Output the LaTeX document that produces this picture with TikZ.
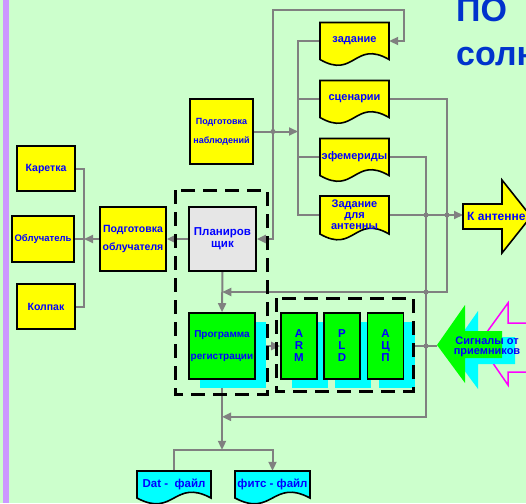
\documentclass[tikz,border=0pt]{standalone}
\usepackage{fontspec}
\setmainfont{Liberation Sans}
\usetikzlibrary{arrows.meta,calc,shadows,backgrounds}

\definecolor{bggreen}{HTML}{CCFFCC}
\definecolor{barpurple}{HTML}{CC99FF}
\definecolor{boxyellow}{HTML}{FFFF00}
\definecolor{boxgreen}{HTML}{00FF00}
\definecolor{boxcyan}{HTML}{00FFFF}
\definecolor{wiregray}{HTML}{808080}
\definecolor{plangray}{HTML}{E6E6E6}
\definecolor{txtblue}{HTML}{0000FF}
\definecolor{titleblue}{HTML}{0033CC}
\definecolor{sigmagenta}{HTML}{FF00FF}

\newcommand{\boxfont}[2]{\fontsize{#1}{#2}\selectfont\bfseries}

\tikzset{
  blk/.style={draw, line width=1.6pt, text=txtblue, align=center, inner sep=1pt},
  ybox/.style={blk, fill=boxyellow},
  gbox/.style={blk, fill=boxgreen,
    drop shadow={fill=boxcyan, opacity=1, shadow xshift=11pt, shadow yshift=-9pt}},
  docbox/.style={text=txtblue, align=center, inner sep=1pt},
  docline/.style={draw, line width=1.6pt},
  wire/.style={draw=wiregray, line width=2pt},
  arr/.style={wire, -{Triangle[length=9pt,width=8pt]}},
  arrs/.style={wire, {Triangle[length=9pt,width=8pt]}-{Triangle[length=9pt,width=8pt]}},
  dashbox/.style={draw, line width=3pt, dash pattern=on 14pt off 8pt},
}

\begin{document}
\begin{tikzpicture}[x=1pt, y=-1pt]
\useasboundingbox (0,0) rectangle (526,503);
\clip (0,0) rectangle (526,503);
\begin{scope}[on background layer]
  \fill[bggreen] (0,0) rectangle (526,503);
  \fill[barpurple] (3,0) rectangle (9,503);
\end{scope}

% title
\node[anchor=base west, inner sep=0pt, text=titleblue, font=\boxfont{34}{40}] (ttlA) at (456,22) {ПО};
\node[anchor=base west, inner sep=0pt, text=titleblue, font=\boxfont{34}{40}] (ttlB) at (456,65) {солн};

% blocks
\node[ybox, minimum width=58pt, minimum height=45pt, font=\boxfont{10.5}{12}] (kar) at (46,168.5) {Каретка};
\node[ybox, minimum width=62pt, minimum height=46pt, font=\boxfont{9.5}{11}] (obl) at (43,239) {Облучатель};
\node[ybox, minimum width=58pt, minimum height=45pt, font=\boxfont{10.5}{12}] (kol) at (46,306.5) {Колпак};
\node[ybox, minimum width=66pt, minimum height=64pt, font=\boxfont{10.5}{18}] (podobl) at (133,239) {Подготовка\\облучателя};
\node[blk, fill=plangray, minimum width=67pt, minimum height=64pt, font=\boxfont{11.5}{12}] (plan) at (222.5,239) {Планиров\\щик};
\node[gbox, minimum width=66pt, minimum height=66pt, font=\boxfont{10}{22}] (prog) at (222,346) {Программа\\регистрации};
\node[ybox, minimum width=63pt, minimum height=65pt, font=\boxfont{9}{19}] (podnab) at (221.5,131.5) {Подготовка\\наблюдений};
\foreach \nm/\xc/\ltr in {arm/299/{A\\R\\M}, pld/342/{P\\L\\D}, adc/385.5/{А\\Ц\\П}}
  \node[gbox, minimum width=36pt, minimum height=66pt, font=\boxfont{11.5}{12}] (\nm) at (\xc,346) {\ltr};

% documents
\foreach \nm/\xc/\yc/\w/\h/\col/\fsz/\txt in {
  zad/354.5/41/69/37/boxyellow/11/{задание},
  scen/354.5/99/69/37/boxyellow/11/{сценарии},
  eph/354.5/157/69/37/boxyellow/11/{эфемериды},
  zant/354.5/215/69/38/boxyellow/11/{Задание\\для\\антенны},
  dat/174/484.5/74/27/boxcyan/11.5/{Dat -\ \ файл},
  fits/272.5/484.5/75/27/boxcyan/11.5/{фитс - файл}}
{
  \filldraw[docline, fill=\col] (\xc-\w/2,\yc-\h/2) -- (\xc+\w/2,\yc-\h/2) -- (\xc+\w/2,\yc+\h/2)
    .. controls (\xc,\yc+\h/2-20) and (\xc,\yc+\h/2+20) .. (\xc-\w/2,\yc+\h/2) -- cycle;
  \node[docbox, minimum width=\w pt, minimum height=\h pt, font=\boxfont{\fsz}{11}] (\nm) at (\xc,\yc) {\txt};
}

% dashed groups
\draw[dashbox] (175,190) rectangle (267,394);
\draw[dashbox] (276,298) rectangle (413,391);

% big arrows
\filldraw[fill=boxyellow, line width=1.6pt] (463,204) -- (502,204) -- (502,180) -- (531,216.5)
  -- (502,253) -- (502,229) -- (463,229) -- cycle;
\node[anchor=west, inner sep=0pt, text=txtblue, font=\boxfont{12}{12}] (ant) at (467,216.5) {К антенне};
\coordinate (anttail) at (463,216.5);

\draw[sigmagenta, line width=1.5pt] (479,343) -- (508,303) -- (508,323) -- (540,323) -- (540,372)
  -- (508,372) -- (508,385) -- cycle;
\fill[boxcyan] (450,351) -- (478,311) -- (478,337) -- (515,337) -- (515,364) -- (478,364) -- (478,389) -- cycle;
\fill[boxgreen] (437,345) -- (465,305) -- (465,331) -- (502,331) -- (502,358) -- (465,358) -- (465,383) -- cycle;
\node[text=txtblue, align=center, inner sep=0pt, font=\boxfont{11}{10.5}] (sig) at (487,347) {Сигналы от\\приемников};
\coordinate (sigtip) at (437,346);

% connectors
\coordinate (oblbus) at (84,239);
\coordinate (loopc) at (273,10);
\coordinate (docbus) at (298,131.5);
\coordinate (colA) at (426,416);
\coordinate (colB) at (447,292);
\coordinate (planin) at ($(plan.south)!0.5!(prog.north)$);
\coordinate (filein) at ($(prog.south)+(0,37)$);
\coordinate (fork) at ($(prog.south)+(0,70)$);
\begin{scope}[on background layer]
  \draw[wire] (kar.east) -| (oblbus) |- (kol.east);
  \draw[wire] (obl.east) -- (oblbus);
  \draw[arr] (podobl.west) -- (oblbus);
  \draw[arr] (plan.west) -- (podobl.east);
  \draw[arr] (plan.south) -- (prog.north);
  \draw[arrs] (plan.east) -| (loopc) -| ($(zad.east)+(15,0)$) -- (zad.east);
  \draw[arr] (podnab.east) -- (docbus);
  \draw[wire] (zad.west) -| (docbus) |- (zant.west);
  \draw[wire] (scen.west) -- (scen.west -| docbus);
  \draw[wire] (eph.west) -- (eph.west -| docbus);
  \draw[arr] (scen.east) -| (colB |- planin) -- (planin);
  \draw[arr] (eph.east) -| (colA |- filein) -- (filein);
  \draw[arr] (zant.east) -- (zant.east -| anttail);
  \draw[arr] (sigtip) -- (adc.east);
  \draw[arr] (adc.west) -- (pld.east);
  \draw[arrs] (pld.west) -- (arm.east);
  \draw[arrs] (arm.west) -- (prog.east);
  \draw[arr] (prog.south) -- (fork);
  \draw[wire] (dat.north) |- (fork);
  \draw[arr] (fork) -| (fits.north);
  \foreach \pt in {loopc |- podnab.east, colA |- zant.east, colB |- zant.east,
                   colA |- planin, colA |- adc.east}
    \fill[wiregray] (\pt) circle (2.5pt);
\end{scope}
\end{tikzpicture}
\end{document}
